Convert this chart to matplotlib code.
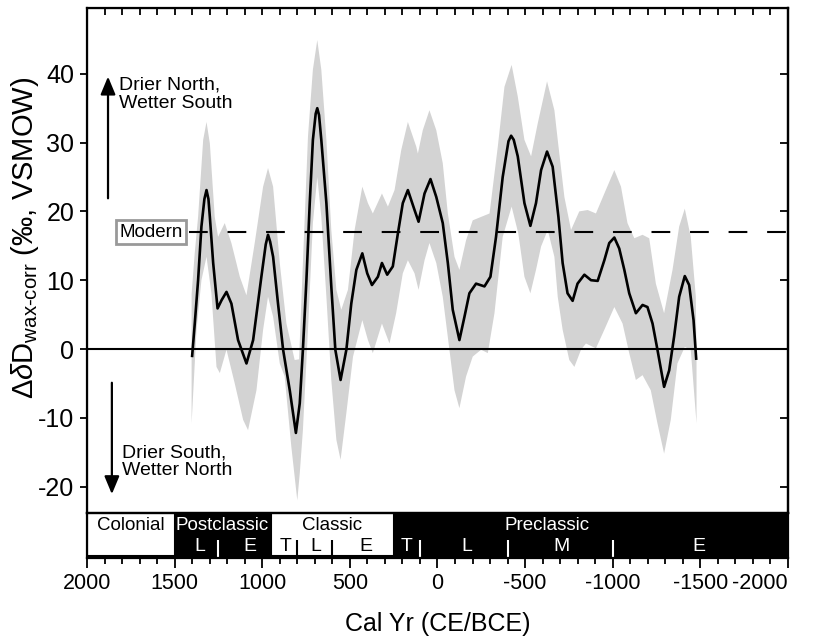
import matplotlib
matplotlib.use('Agg')
import matplotlib.pyplot as plt
from matplotlib.patches import Rectangle
import numpy as np

plt.rcParams['font.family'] = ['Liberation Sans', 'DejaVu Sans']
plt.rcParams['mathtext.fontset'] = 'custom'
plt.rcParams['mathtext.rm'] = 'Liberation Sans'
plt.rcParams['mathtext.it'] = 'Liberation Sans:italic'
plt.rcParams['axes.unicode_minus'] = False

# smoothed record (year CE/BCE, per mil)
years = [1400, 1385, 1366, 1347, 1330, 1318, 1307, 1299, 1280, 1255, 1232, 1204, 1176, 1138,
         1090, 1052, 1005, 980, 967, 955, 938, 910, 881, 843, 808, 786, 768, 748, 729, 711,
         695, 686, 676, 663, 634, 606, 583, 553, 520, 492, 463, 429, 401, 374, 340, 317,
         287, 255, 226, 198, 169, 131, 108, 74, 40, 7, -30, -59, -87, -125, -154, -182,
         -220, -268, -302, -334, -372, -405, -420, -435, -458, -496, -530, -562, -591, -625,
         -657, -690, -714, -742, -771, -799, -838, -876, -914, -952, -980, -1009, -1037,
         -1066, -1094, -1132, -1170, -1198, -1227, -1255, -1293, -1322, -1350, -1379, -1411,
         -1436, -1461, -1476]
dD = [-1.0, 3.7, 10.0, 17.8, 21.8, 23.1, 21.8, 19.2, 12.5, 5.9, 7.1, 8.3, 6.6, 1.3,
      -2.1, 1.3, 10.5, 15.2, 16.6, 15.6, 13.4, 6.6, -0.1, -6.0, -12.2, -7.9, -0.1, 10.0, 21.2, 30.4,
      34.2, 35.0, 34.0, 30.4, 21.2, 9.1, -0.1, -4.5, -0.1, 6.6, 11.5, 13.9, 11.0, 9.3, 10.5, 12.5,
      10.8, 12.0, 16.8, 21.2, 23.1, 20.2, 18.5, 22.6, 24.7, 22.1, 18.3, 12.5, 5.7, 1.3, 4.7, 8.1,
      9.5, 9.1, 10.5, 16.3, 25.0, 30.2, 31.0, 30.4, 28.0, 21.2, 17.9, 21.2, 26.0, 28.7,
      26.5, 19.2, 12.5, 8.1, 7.0, 9.5, 10.8, 10.0, 9.9, 12.9, 15.4, 16.2, 14.6,
      11.5, 8.1, 5.2, 6.4, 6.1, 3.7, -0.1, -5.5, -3.1, 1.8, 7.6, 10.6,
      9.3, 4.2, -1.4]

# uncertainty envelope
upper_years = [1403, 1385, 1366, 1337, 1318, 1299, 1271, 1252, 1214, 1176, 1128, 1090, 1043, 995,
               967, 938, 900, 862, 815, 790, 768, 739, 711, 686, 663, 634, 606, 577, 549, 511,
               473, 429, 397, 369, 317, 283, 245, 207, 169, 121, 112, 84, 46, 7, -30, -59, -97,
               -125, -163, -201, -249, -297, -344, -382, -423, -458, -496, -534, -572, -625,
               -667, -686, -724, -762, -809, -857, -904, -952, -1009, -1047, -1084, -1123,
               -1170, -1208, -1246, -1293, -1341, -1379, -1411, -1445, -1474, -1478]
upper = [8.0, 14.0, 19.2, 30.4, 33.0, 29.9, 19.2, 16.3, 18.3, 15.4, 10.5, 7.8, 15.4, 23.6,
         26.3, 23.6, 12.5, 3.7, -1.6, -1.5, 12.5, 30.9, 40.6, 44.9, 40.6, 30.4, 17.3, 8.6, 5.7, 8.6,
         17.3, 23.6, 21.2, 19.7, 22.6, 20.7, 23.1, 28.9, 33.0, 29.4, 28.4, 31.8, 34.7, 31.8, 27.0, 19.7, 13.4,
         11.5, 15.8, 18.7, 19.2, 19.7, 29.4, 38.1, 41.3, 36.7, 30.4, 28.0, 32.8, 38.9,
         34.7, 30.4, 22.1, 17.3, 20.0, 20.2, 19.7, 22.6, 26.0, 23.6, 18.3, 16.1,
         16.6, 16.1, 9.5, 5.2, 11.5, 17.8, 20.4, 16.3, 7.6, -2.0]
lower_years = [1403, 1375, 1347, 1318, 1290, 1261, 1242, 1204, 1157, 1109, 1081, 1033, 995, 967,
               938, 900, 872, 834, 800, 786, 768, 739, 711, 686, 663, 634, 606, 577, 553, 520,
               482, 429, 397, 369, 317, 274, 236, 198, 169, 131, 108, 74, 46, 7, -30, -68, -97,
               -125, -163, -201, -249, -287, -325, -372, -423, -461, -496, -530, -562, -591,
               -629, -667, -686, -714, -752, -781, -819, -847, -904, -952, -1009, -1056, -1094,
               -1132, -1170, -1217, -1255, -1293, -1331, -1369, -1411, -1445, -1478]
lower = [-10.8, 2.8, 10.0, 13.4, 8.1, -2.6, -3.5, -0.1, -5.0, -10.3, -11.8, -6.0, 2.8, 7.6,
         4.7, -2.1, -4.0, -14.2, -22.0, -18.1, -11.8, 2.8, 18.3, 25.0, 19.2, 7.6, -4.5, -13.2, -16.1, -9.3,
         -1.1, 4.2, 1.3, -0.6, 3.7, 0.8, 5.2, 11.0, 12.9, 11.0, 8.6, 12.9, 15.4, 12.5, 7.6, -0.1, -6.0,
         -8.6, -4.0, -1.1, -0.1, -0.6, 5.2, 16.3, 20.7, 16.8, 10.5, 8.1, 11.5, 14.9,
         17.3, 13.4, 7.6, 2.8, -1.6, -2.6, -0.1, 0.8, 0.1, 2.8, 6.1, 3.7, -0.6,
         -4.5, -3.8, -6.0, -10.8, -15.2, -10.3, -2.1, 0.3, -0.1, -10.8]

MODERN = 17

# cultural periods: (label, start, end, white box?)
periods = [('Colonial', 2000, 1500, True), ('Postclassic', 1500, 950, False),
           ('Classic', 950, 250, True), ('Preclassic', 250, -2000, False)]
period_label_x = [1750, 1230, 600, -625]
sub_labels = ['L', 'E', 'T', 'L', 'E', 'T', 'L', 'M', 'E']
sub_label_x = [1357, 1071, 868, 697, 410, 178, -167, -705, -1493]
sub_bounds = [1250, 800, 600, 100, -400, -1000]

fig = plt.figure(figsize=(8.16, 6.42), dpi=100)
ax = fig.add_axes([0.1066, 0.2009, 0.8591, 0.7866])
axb = fig.add_axes([0.1066, 0.1308, 0.8591, 0.0701])

ax.fill(upper_years + lower_years[::-1], upper + lower[::-1], color='#d3d3d3', lw=0, zorder=1)
ax.plot(years, dD, color='black', lw=1.9, zorder=3)
ax.axhline(0, color='black', lw=1.5, zorder=2)
ax.hlines(MODERN, 1420, -2000, color='black', lw=1.5, linestyles=(0, (9, 9.5)), zorder=2)

ax.text(1635, MODERN, 'Modern', ha='center', va='center', fontsize=13.5,
        bbox=dict(boxstyle='square,pad=0.2', fc='white', ec='#999999', lw=2))
ax.annotate('', xy=(1880, 40), xytext=(1880, 21.5),
            arrowprops=dict(arrowstyle='-|>,head_length=0.6,head_width=0.25', lw=1.6,
                            color='black', mutation_scale=18))
ax.annotate('', xy=(1858, -21.5), xytext=(1858, -4.5),
            arrowprops=dict(arrowstyle='-|>,head_length=0.6,head_width=0.25', lw=1.6,
                            color='black', mutation_scale=18))
ax.text(1818, 37, 'Drier North,\nWetter South', fontsize=14, ha='left', va='center', linespacing=1.1)
ax.text(1801, -16.4, 'Drier South,\nWetter North', fontsize=14, ha='left', va='center', linespacing=1.1)

ax.set_xlim(2000, -2000)
ax.set_ylim(-23.84, 49.56)
ax.set_yticks([-20, -10, 0, 10, 20, 30, 40])
ax.set_xticks(np.arange(-2000, 2001, 500))
ax.set_xticks(np.arange(-2000, 2001, 100), minor=True)
ax.tick_params(axis='x', which='both', bottom=False, top=True, labelbottom=False,
               direction='in', length=5, width=1.3)
ax.tick_params(axis='y', which='major', direction='out', length=5, width=1.3,
               labelsize=18, pad=4)
for s in ax.spines.values():
    s.set_linewidth(1.6)
ax.set_ylabel(r'$\Delta\delta$D$_{\mathrm{wax}\text{-}\mathrm{corr}}$ (‰, VSMOW)', fontsize=21)
ax.yaxis.set_label_coords(-0.066, 0.545)

axr = ax.twinx()
axr.set_ylim(ax.get_ylim())
axr.set_yticks([-20, -10, 0, 10, 20, 30, 40])
axr.tick_params(axis='y', direction='in', length=6, width=1.3, labelright=False)
axr.spines['right'].set_linewidth(1.6)

# period bar
axb.set_facecolor('black')
axb.set_xlim(2000, -2000)
axb.set_ylim(0, 1)
for (name, x0, x1, white), lx in zip(periods, period_label_x):
    if white:
        axb.add_patch(Rectangle((x1, 0.05), x0 - x1, 0.95, fc='white', ec='black', lw=1.5))
    axb.text(lx, 0.72, name, ha='center', va='center', fontsize=13.5,
             color='black' if white else 'white')
for lab, lx in zip(sub_labels, sub_label_x):
    inwhite = any(w and x1 < lx < x0 for (_, x0, x1, w) in periods)
    axb.text(lx, 0.25, lab, ha='center', va='center', fontsize=14,
             color='black' if inwhite else 'white')
for b in sub_bounds:
    inwhite = any(w and x1 < b < x0 for (_, x0, x1, w) in periods)
    axb.vlines(b, 0.0, 0.4, color='black' if inwhite else 'white', lw=1.5)

xt = np.arange(2000, -2001, -500)
axb.set_yticks([])
axb.set_xticks(xt)
axb.set_xticks(np.arange(-2000, 2001, 100), minor=True)
axb.set_xticklabels([str(v) for v in xt])
axb.get_xticklabels()[-1].set_horizontalalignment('right')
axb.tick_params(axis='x', which='major', direction='out', length=7, width=1.3,
                labelsize=15.5, pad=4)
axb.tick_params(axis='x', which='minor', direction='out', length=4.5, width=1.3)
for s in axb.spines.values():
    s.set_linewidth(1.6)
axb.set_xlabel('Cal Yr (CE/BCE)', fontsize=18, labelpad=13)

fig.savefig('out.png', dpi=100)
